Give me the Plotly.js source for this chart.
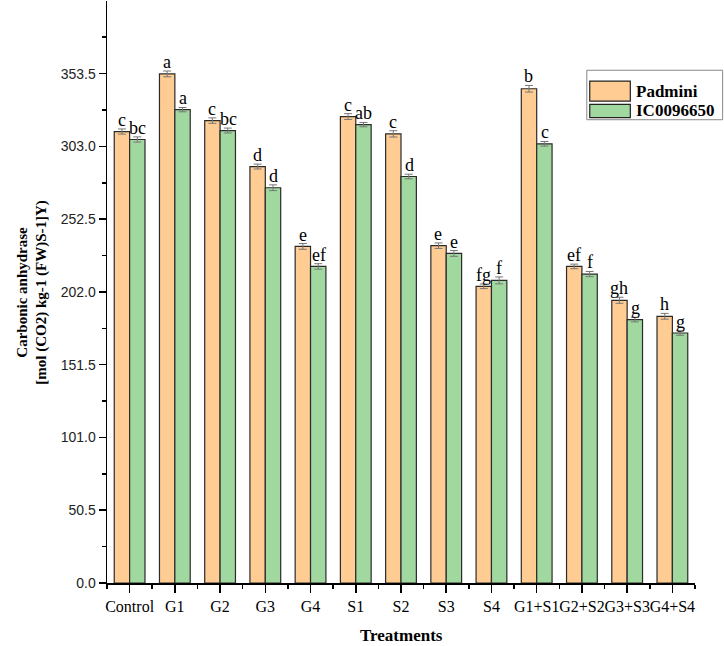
<!DOCTYPE html>
<html>
<head>
<meta charset="utf-8">
<script src="https://cdn.plot.ly/plotly-3.0.1.min.js"></script>
<style>
  html, body { margin: 0; padding: 0; background: #fff; }
  #chart { width: 724px; height: 646px; }
</style>
</head>
<body>
<div id="chart"></div>
<script>
// Treatments along the x axis
const treatments = ["Control", "G1", "G2", "G3", "G4", "S1", "S2", "S3", "S4",
                    "G1+S1", "G2+S2", "G3+S3", "G4+S4"];

// Series names
const seriesNames = ["Padmini", "IC0096650"];

// Carbonic anhydrase means
const padmini = [313.3, 353.3, 320.9, 289.0, 233.6, 323.7, 311.7, 234.1, 205.9, 343.0, 219.7, 196.2, 185.1];
const ic0096650 = [307.8, 328.5, 314.0, 274.3, 219.7, 318.1, 282.1, 228.7, 210.0, 304.8, 214.4, 182.8, 173.5];

// Standard errors
const padminiErr = [1.8, 2.0, 1.9, 1.7, 2.0, 2.0, 2.2, 1.9, 1.6, 2.3, 1.6, 2.1, 2.0];
const icErr = [1.8, 1.5, 1.7, 2.0, 1.9, 1.5, 1.6, 2.0, 2.4, 1.6, 1.8, 1.6, 1.6];

// Significance letters
const padminiLetters = ["c", "a", "c", "d", "e", "c", "c", "e", "fg", "b", "ef", "gh", "h"];
const icLetters = ["bc", "a", "bc", "d", "ef", "ab", "d", "e", "f", "c", "f", "g", "g"];

// Y axis ticks
const yTickStep = 50.5;
const yMax = 403.9;

const colors = ["#FFCC93", "#A0D8A0"];
const idx = treatments.map((_, i) => i);

const traces = [
  {
    type: "bar", name: seriesNames[0], x: idx, y: padmini,
    marker: { color: colors[0], line: { color: "#2b2b2b", width: 1.2 } },
    error_y: { type: "data", array: padminiErr, visible: true, color: "#777", thickness: 1, width: 4 },
    showlegend: false
  },
  {
    type: "bar", name: seriesNames[1], x: idx, y: ic0096650,
    marker: { color: colors[1], line: { color: "#2b2b2b", width: 1.2 } },
    error_y: { type: "data", array: icErr, visible: true, color: "#777", thickness: 1, width: 4 },
    showlegend: false
  }
];

const serif = "Liberation Serif, Times New Roman, serif";
const annotations = [];
const offset = 8; // half a bar width in px
idx.forEach(i => {
  annotations.push({
    x: i, y: padmini[i] + padminiErr[i], xref: "x", yref: "y",
    text: padminiLetters[i], showarrow: false, xshift: -offset, yshift: -3,
    yanchor: "bottom", font: { family: serif, size: 18, color: "#000" }
  });
  annotations.push({
    x: i, y: ic0096650[i] + icErr[i], xref: "x", yref: "y",
    text: icLetters[i], showarrow: false, xshift: offset, yshift: -3,
    yanchor: "bottom", font: { family: serif, size: 18, color: "#000" }
  });
});

// Axis titles
annotations.push({
  xref: "paper", yref: "paper", x: -0.128, y: 0.5, textangle: -90,
  xanchor: "center", yanchor: "middle", showarrow: false,
  text: "<b>Carbonic anhydrase</b><br><b>[mol (CO2) kg-1 (FW)S-1]Y)</b>",
  font: { family: serif, size: 15, color: "#000" }
});
annotations.push({
  xref: "paper", yref: "paper", x: 0.5, y: -0.091,
  xanchor: "center", yanchor: "middle", showarrow: false,
  text: "<b>Treatments</b>", font: { family: serif, size: 17, color: "#000" }
});

// Legend box with swatches
const shapes = [
  { type: "rect", xref: "paper", yref: "paper", x0: 0.816, x1: 1.047, y0: 0.796, y1: 0.881,
    line: { color: "#888", width: 1 }, fillcolor: "rgba(0,0,0,0)" }
];
const swatchRows = [
  { y0: 0.8625, y1: 0.828 },
  { y0: 0.8225, y1: 0.7995 }
];
seriesNames.forEach((name, k) => {
  shapes.push({
    type: "rect", xref: "paper", yref: "paper", x0: 0.821, x1: 0.890,
    y0: swatchRows[k].y0, y1: swatchRows[k].y1,
    line: { color: "#222", width: 1.2 }, fillcolor: colors[k]
  });
  annotations.push({
    xref: "paper", yref: "paper", x: 0.897, y: (swatchRows[k].y0 + swatchRows[k].y1) / 2,
    xanchor: "left", yanchor: "middle", showarrow: false,
    text: "<b>" + name + "</b>", font: { family: serif, size: 17, color: "#000" }
  });
});

const layout = {
  width: 724, height: 646,
  margin: { l: 107, r: 29, t: 1, b: 63 },
  paper_bgcolor: "#fff", plot_bgcolor: "#fff",
  barmode: "group", bargap: 0.32, bargroupgap: 0,
  showlegend: false,
  xaxis: {
    range: [-0.5, 12.5],
    tickmode: "array", tickvals: idx, ticktext: treatments, tickangle: 0,
    ticks: "outside", ticklen: 8, tickwidth: 1.5, tickcolor: "#000",
    minor: { tickmode: "linear", tick0: 0.5, dtick: 1, ticks: "outside", ticklen: 4, tickwidth: 1.5, tickcolor: "#000" },
    showline: true, linecolor: "#000", linewidth: 1.5,
    showgrid: false, zeroline: false,
    tickfont: { family: serif, size: 16, color: "#000" }
  },
  yaxis: {
    range: [0, yMax],
    tickmode: "linear", tick0: 0, dtick: yTickStep, tickformat: ".1f",
    ticks: "outside", ticklen: 7, tickwidth: 1.5, tickcolor: "#000",
    minor: { tickmode: "linear", tick0: 0, dtick: yTickStep / 2, ticks: "outside", ticklen: 4, tickwidth: 1.5, tickcolor: "#000" },
    showline: true, linecolor: "#000", linewidth: 1.5,
    showgrid: false, zeroline: false,
    tickfont: { family: "Liberation Sans, Arial, sans-serif", size: 14, color: "#222" }
  },
  annotations: annotations,
  shapes: shapes
};

Plotly.newPlot("chart", traces, layout, { displayModeBar: false, staticPlot: true });
</script>
</body>
</html>
